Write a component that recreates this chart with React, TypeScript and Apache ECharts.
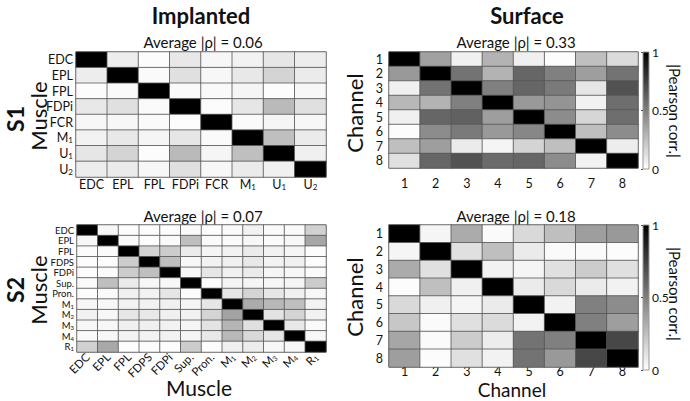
import React, { useEffect, useRef } from 'react';
import * as echarts from 'echarts';

const s1ImplantedLabels = ['EDC', 'EPL', 'FPL', 'FDPi', 'FCR', 'M1', 'U1', 'U2'];
const s1Implanted = [
  [1, 0.07, 0.01, 0.09, 0.03, 0.05, 0.1, 0.07],
  [0.07, 1, 0.02, 0.12, 0.03, 0.09, 0.17, 0.08],
  [0.01, 0.02, 1, 0.02, 0.02, 0.04, 0.01, 0.03],
  [0.09, 0.12, 0.02, 1, 0.01, 0.1, 0.27, 0.12],
  [0.03, 0.03, 0.02, 0.01, 1, 0.02, 0.04, 0.03],
  [0.05, 0.09, 0.04, 0.1, 0.02, 1, 0.25, 0.08],
  [0.1, 0.17, 0.01, 0.27, 0.04, 0.25, 1, 0.06],
  [0.07, 0.08, 0.03, 0.12, 0.03, 0.08, 0.06, 1],
];

const channelLabels = ['1', '2', '3', '4', '5', '6', '7', '8'];
const s1Surface = [
  [1, 0.37, 0.06, 0.3, 0.06, 0.01, 0.25, 0.14],
  [0.4, 1, 0.55, 0.3, 0.6, 0.5, 0.38, 0.55],
  [0.06, 0.55, 1, 0.5, 0.6, 0.52, 0.1, 0.68],
  [0.28, 0.3, 0.5, 1, 0.4, 0.42, 0.05, 0.57],
  [0.06, 0.6, 0.62, 0.38, 1, 0.45, 0.16, 0.57],
  [0.01, 0.45, 0.52, 0.4, 0.47, 1, 0.25, 0.45],
  [0.25, 0.38, 0.08, 0.04, 0.17, 0.25, 1, 0.07],
  [0.12, 0.6, 0.68, 0.58, 0.6, 0.45, 0.05, 1],
];

const s2ImplantedLabels = ['EDC', 'EPL', 'FPL', 'FDPS', 'FDPi', 'Sup.', 'Pron.', 'M1', 'M2', 'M3', 'M4', 'R1'];
const s2Implanted = [
  [1, 0.03, 0.01, 0.01, 0.01, 0.02, 0.01, 0.02, 0.05, 0.02, 0.02, 0.18],
  [0.03, 1, 0.02, 0.01, 0.02, 0.25, 0.02, 0.02, 0.03, 0.02, 0.03, 0.35],
  [0.01, 0.02, 1, 0.17, 0.2, 0.08, 0.04, 0.05, 0.08, 0.05, 0.04, 0.01],
  [0.01, 0.01, 0.2, 1, 0.25, 0.03, 0.05, 0.06, 0.09, 0.05, 0.06, 0.01],
  [0.01, 0.02, 0.2, 0.25, 1, 0.03, 0.1, 0.06, 0.08, 0.04, 0.03, 0.02],
  [0.02, 0.25, 0.08, 0.03, 0.03, 1, 0.01, 0.04, 0.04, 0.03, 0.04, 0.2],
  [0.01, 0.02, 0.06, 0.05, 0.1, 0.01, 1, 0.1, 0.17, 0.1, 0.06, 0.03],
  [0.03, 0.03, 0.05, 0.05, 0.06, 0.04, 0.1, 1, 0.33, 0.28, 0.25, 0.05],
  [0.05, 0.03, 0.1, 0.09, 0.06, 0.05, 0.17, 0.36, 1, 0.11, 0.17, 0.05],
  [0.03, 0.03, 0.06, 0.06, 0.05, 0.04, 0.11, 0.29, 0.12, 1, 0.09, 0.02],
  [0.02, 0.03, 0.05, 0.05, 0.05, 0.04, 0.09, 0.28, 0.15, 0.1, 1, 0.03],
  [0.18, 0.34, 0.01, 0.01, 0.01, 0.2, 0.01, 0.06, 0.07, 0.03, 0.03, 1],
];

const s2Surface = [
  [1, 0.04, 0.33, 0.02, 0.15, 0.25, 0.38, 0.4],
  [0.04, 1, 0.12, 0.25, 0.08, 0.02, 0.02, 0.01],
  [0.33, 0.12, 1, 0.05, 0.04, 0.12, 0.2, 0.12],
  [0.01, 0.25, 0.06, 1, 0.08, 0.15, 0.08, 0.05],
  [0.15, 0.06, 0.04, 0.08, 1, 0.05, 0.5, 0.45],
  [0.22, 0.02, 0.12, 0.14, 0.05, 1, 0.5, 0.38],
  [0.35, 0.02, 0.2, 0.07, 0.55, 0.5, 1, 0.72],
  [0.38, 0.01, 0.12, 0.05, 0.55, 0.4, 0.72, 1],
];

const averageValues = ['0.06', '0.33', '0.07', '0.18'];
const colorbarRange = [0, 1];
const colorbarInterval = 0.5;

const FONT = 'Lato, "Open Sans", sans-serif';

const toData = (m: number[][]) => m.flatMap((row, i) => row.map((v, j) => [j, i, v]));

const subFmt = (s: string) => {
  const m = /^([A-Z])(\d)$/.exec(s);
  return m ? `{a|${m[1]}}{s|${m[2]}}` : `{a|${s}}`;
};

const richFor = (size: number, lh: number) => ({
  a: { fontSize: size, fontFamily: FONT, color: '#111', lineHeight: lh, verticalAlign: 'bottom' },
  s: { fontSize: Math.round(size * 0.6), fontFamily: FONT, color: '#111', lineHeight: Math.round(size * 0.6), verticalAlign: 'bottom' },
});

export default function App() {
  const ref = useRef<HTMLDivElement>(null);
  useEffect(() => {
    if (!ref.current) return;
    const chart = echarts.init(ref.current, null, { renderer: 'svg' });

    const grids = [
      { left: 76, top: 52, width: 250, height: 125 },
      { left: 389, top: 52, width: 249, height: 116 },
      { left: 77, top: 225, width: 249, height: 127 },
      { left: 389, top: 225, width: 249, height: 142 },
      { left: 643, top: 52, width: 6, height: 117 },
      { left: 643, top: 225, width: 6, height: 145 },
    ];
    const grad = () =>
      new echarts.graphic.LinearGradient(0, 0, 0, 1, [
        { offset: 0, color: '#000000' },
        { offset: 1, color: '#ffffff' },
      ]);

    const catX = (gi: number, data: string[], size: number, lh: number, margin: number, rotate = 0) => ({
      type: 'category',
      gridIndex: gi,
      data,
      position: 'bottom',
      axisLine: { show: false },
      axisTick: { show: false },
      splitLine: { show: false },
      axisLabel: { interval: 0, margin, rotate, formatter: subFmt, rich: richFor(size, lh), color: '#111' },
    });
    const catY = (gi: number, data: string[], size: number, lh: number, margin: number) => ({
      type: 'category',
      gridIndex: gi,
      data,
      inverse: true,
      axisLine: { show: false },
      axisTick: { show: false },
      splitLine: { show: false },
      axisLabel: { interval: 0, margin, formatter: subFmt, rich: richFor(size, lh), color: '#111' },
    });

    const matrices = [s1Implanted, s1Surface, s2Implanted, s2Surface];
    const series = matrices.map((m, i) => ({
      type: 'heatmap',
      xAxisIndex: i,
      yAxisIndex: i,
      data: toData(m),
      itemStyle: { borderColor: '#555', borderWidth: 0.8 },
      emphasis: { disabled: true },
    }));

    const text = (t: string, x: number, y: number, size: number, bold = false, rotation = 0) => ({
      type: 'text',
      x,
      y,
      rotation,
      style: {
        text: t,
        font: `${bold ? 'bold ' : ''}${size}px ${FONT}`,
        fill: '#111',
        textAlign: 'center',
        textVerticalAlign: 'middle',
        align: 'center',
        verticalAlign: 'middle',
      },
    });

    const option: any = {
      animation: false,
      backgroundColor: '#ffffff',
      textStyle: { fontFamily: FONT },
      grid: grids.map((g, i) =>
        i < 4
          ? { ...g, show: true, borderColor: '#999', borderWidth: 1, backgroundColor: 'transparent' }
          : { ...g, show: true, borderColor: '#999', borderWidth: 1, backgroundColor: grad() }
      ),
      xAxis: [
        catX(0, s1ImplantedLabels, 12.5, 13, 1),
        catX(1, channelLabels, 12.5, 13, 9),
        catX(2, s2ImplantedLabels, 11.5, 12, 3, 45),
        catX(3, channelLabels, 12.5, 11, 0),
        { type: 'value', gridIndex: 4, show: false },
        { type: 'value', gridIndex: 5, show: false },
      ],
      yAxis: [
        catY(0, s1ImplantedLabels, 12.5, 13, 3),
        catY(1, channelLabels, 12.5, 13, 6),
        catY(2, s2ImplantedLabels, 9.5, 10, 3),
        catY(3, channelLabels, 12.5, 13, 6),
        ...[4, 5].map((gi) => ({
          type: 'value',
          gridIndex: gi,
          position: 'right',
          min: colorbarRange[0],
          max: colorbarRange[1],
          interval: colorbarInterval,
          axisLine: { show: false },
          axisTick: { show: true, inside: true, length: 2, lineStyle: { color: '#555' } },
          splitLine: { show: false },
          axisLabel: { margin: 3, fontSize: 12, color: '#111', fontFamily: FONT },
        })),
      ],
      visualMap: {
        type: 'continuous',
        show: false,
        min: colorbarRange[0],
        max: colorbarRange[1],
        seriesIndex: [0, 1, 2, 3],
        inRange: { color: ['#ffffff', '#000000'] },
      },
      series,
      graphic: [
        text('Implanted', 201, 15, 22, true),
        text('Surface', 527, 15, 22, true),
        text(`Average |ρ| = ${averageValues[0]}`, 203, 42, 15),
        text(`Average |ρ| = ${averageValues[1]}`, 516, 42, 15),
        text(`Average |ρ| = ${averageValues[2]}`, 203, 216, 15),
        text(`Average |ρ| = ${averageValues[3]}`, 516, 216, 15),
        text('S1', 15, 119, 23, true, Math.PI / 2),
        text('S2', 15, 290, 23, true, Math.PI / 2),
        text('Muscle', 38, 116, 22, false, Math.PI / 2),
        text('Muscle', 38, 290, 22, false, Math.PI / 2),
        text('Channel', 354, 113, 22, false, Math.PI / 2),
        text('Channel', 354, 297, 22, false, Math.PI / 2),
        text('|Pearson corr.|', 675, 111, 15, false, -Math.PI / 2),
        text('|Pearson corr.|', 675, 294, 15, false, -Math.PI / 2),
        text('Muscle', 199, 387, 21),
        text('Channel', 512, 389.5, 19),
      ],
    };
    chart.setOption(option);
    return () => chart.dispose();
  }, []);
  return <div ref={ref} style={{ position: 'fixed', left: 0, top: 0, width: 690, height: 401 }} />;
}
